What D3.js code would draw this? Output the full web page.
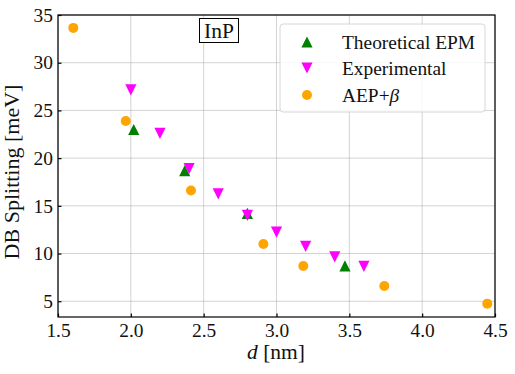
<!DOCTYPE html>
<html>
<head>
<meta charset="utf-8">
<script src="https://cdn.jsdelivr.net/npm/d3@7"></script>
<style>
  body { margin: 0; background: #fff; }
  svg text { font-family: "Liberation Serif", serif !important; }
</style>
</head>
<body>
<div id="chart"></div>
<script>
// data
const epmD = [2.02, 2.37, 2.80, 3.47];
const epmSplit = [23.0, 18.7, 14.2, 8.7];

const expD = [2.0, 2.2, 2.4, 2.6, 2.8, 3.0, 3.2, 3.4, 3.6];
const expSplit = [27.15, 22.6, 18.9, 16.25, 14.0, 12.25, 10.75, 9.65, 8.65];

const aepD = [1.605, 1.965, 2.413, 2.91, 3.184, 3.74, 4.447];
const aepSplit = [33.65, 23.9, 16.6, 11.0, 8.7, 6.6, 4.75];

const xTicks = [1.5, 2.0, 2.5, 3.0, 3.5, 4.0, 4.5];
const yTicks = [5, 10, 15, 20, 25, 30, 35];

const W = 515, H = 374;
const margin = { top: 15, right: 20, bottom: 57, left: 58 },
    width = W - margin.left - margin.right,
    height = H - margin.top - margin.bottom;

const svg = d3.select("#chart")
    .append("svg")
    .attr("width", W)
    .attr("height", H);

const g = svg.append("g")
    .attr("transform", `translate(${margin.left}, ${margin.top})`);

const x = d3.scaleLinear().domain([1.5, 4.5]).range([0, width]);
const y = d3.scaleLinear().domain([3.35, 35]).range([height, 0]);

// grid
g.append("g").selectAll("line")
    .data(xTicks)
    .join("line")
    .attr("x1", d => x(d)).attr("x2", d => x(d))
    .attr("y1", 0).attr("y2", height)
    .attr("stroke", "#b0b0b0").attr("stroke-opacity", 0.7).attr("stroke-width", 0.8);
g.append("g").selectAll("line")
    .data(yTicks)
    .join("line")
    .attr("x1", 0).attr("x2", width)
    .attr("y1", d => y(d)).attr("y2", d => y(d))
    .attr("stroke", "#b0b0b0").attr("stroke-opacity", 0.7).attr("stroke-width", 0.8);

// markers
const S = 5.6;
function downTri(cx, cy, s) {
    return `M${cx - s},${cy - s}L${cx + s},${cy - s}L${cx},${cy + s}Z`;
}
function upTri(cx, cy, s) {
    return `M${cx - s},${cy + s}L${cx + s},${cy + s}L${cx},${cy - s}Z`;
}

g.append("g").selectAll("path")
    .data(epmD.map((d, i) => [d, epmSplit[i]]))
    .join("path")
    .attr("d", d => upTri(x(d[0]), y(d[1]), S))
    .attr("fill", "green");

g.append("g").selectAll("path")
    .data(expD.map((d, i) => [d, expSplit[i]]))
    .join("path")
    .attr("d", d => downTri(x(d[0]), y(d[1]), S))
    .attr("fill", "magenta");

g.append("g").selectAll("circle")
    .data(aepD.map((d, i) => [d, aepSplit[i]]))
    .join("circle")
    .attr("cx", d => x(d[0]))
    .attr("cy", d => y(d[1]))
    .attr("r", 5)
    .attr("fill", "orange");

// axes
const xAxis = g.append("g")
    .attr("transform", `translate(0, ${height})`)
    .call(d3.axisBottom(x).tickValues(xTicks).tickFormat(d3.format(".1f"))
        .tickSizeInner(-3.5).tickSizeOuter(0).tickPadding(6));
const yAxis = g.append("g")
    .call(d3.axisLeft(y).tickValues(yTicks)
        .tickSizeInner(-3.5).tickSizeOuter(0).tickPadding(5));
[xAxis, yAxis].forEach(a => {
    a.attr("font-family", "Liberation Serif").attr("font-size", 19.4);
    a.select(".domain").remove();
    a.selectAll("line").attr("stroke", "#000").attr("stroke-width", 1.2);
    a.selectAll("text").attr("fill", "#111");
});

// frame
g.append("rect")
    .attr("width", width).attr("height", height)
    .attr("fill", "none").attr("stroke", "#000").attr("stroke-width", 1.2);

// axis labels
svg.append("text")
    .attr("x", 276)
    .attr("y", 359)
    .attr("text-anchor", "middle")
    .attr("font-size", 21.5)
    .attr("fill", "#111")
    .html('<tspan font-style="italic">d</tspan> [nm]');

svg.append("text")
    .attr("transform", `translate(18.5, 172) rotate(-90)`)
    .attr("text-anchor", "middle")
    .attr("font-size", 22)
    .attr("fill", "#111")
    .text("DB Splitting [meV]");

// InP label
const lab = g.append("g").attr("transform", `translate(${219 - margin.left}, ${30.5 - margin.top})`);
lab.append("rect")
    .attr("x", -19.5).attr("y", -12)
    .attr("width", 39).attr("height", 24)
    .attr("fill", "#fff").attr("stroke", "#000").attr("stroke-width", 1);
lab.append("text")
    .attr("text-anchor", "middle").attr("y", 7.5)
    .attr("font-size", 21.5).attr("fill", "#111")
    .text("InP");

// legend
const names = ["Theoretical EPM", "Experimental", "AEP+"];
const leg = g.append("g").attr("transform", `translate(${280 - margin.left}, ${24 - margin.top})`);
leg.append("rect")
    .attr("width", 205).attr("height", 88).attr("rx", 3)
    .attr("fill", "#fff").attr("fill-opacity", 0.85)
    .attr("stroke", "#d6d6d6").attr("stroke-width", 1);
const rows = [18, 44, 71];
leg.append("path").attr("d", upTri(27, rows[0], S)).attr("fill", "green");
leg.append("path").attr("d", downTri(27, rows[1], S)).attr("fill", "magenta");
leg.append("circle").attr("cx", 27).attr("cy", rows[2]).attr("r", 5).attr("fill", "orange");
leg.selectAll("text.lab")
    .data(names)
    .join("text")
    .attr("class", "lab")
    .attr("x", 62)
    .attr("y", (d, i) => rows[i] + 6.5)
    .attr("font-size", 19.4)
    .attr("fill", "#111")
    .html((d, i) => i === 2 ? 'AEP+<tspan font-style="italic">β</tspan>' : d);
</script>
</body>
</html>
